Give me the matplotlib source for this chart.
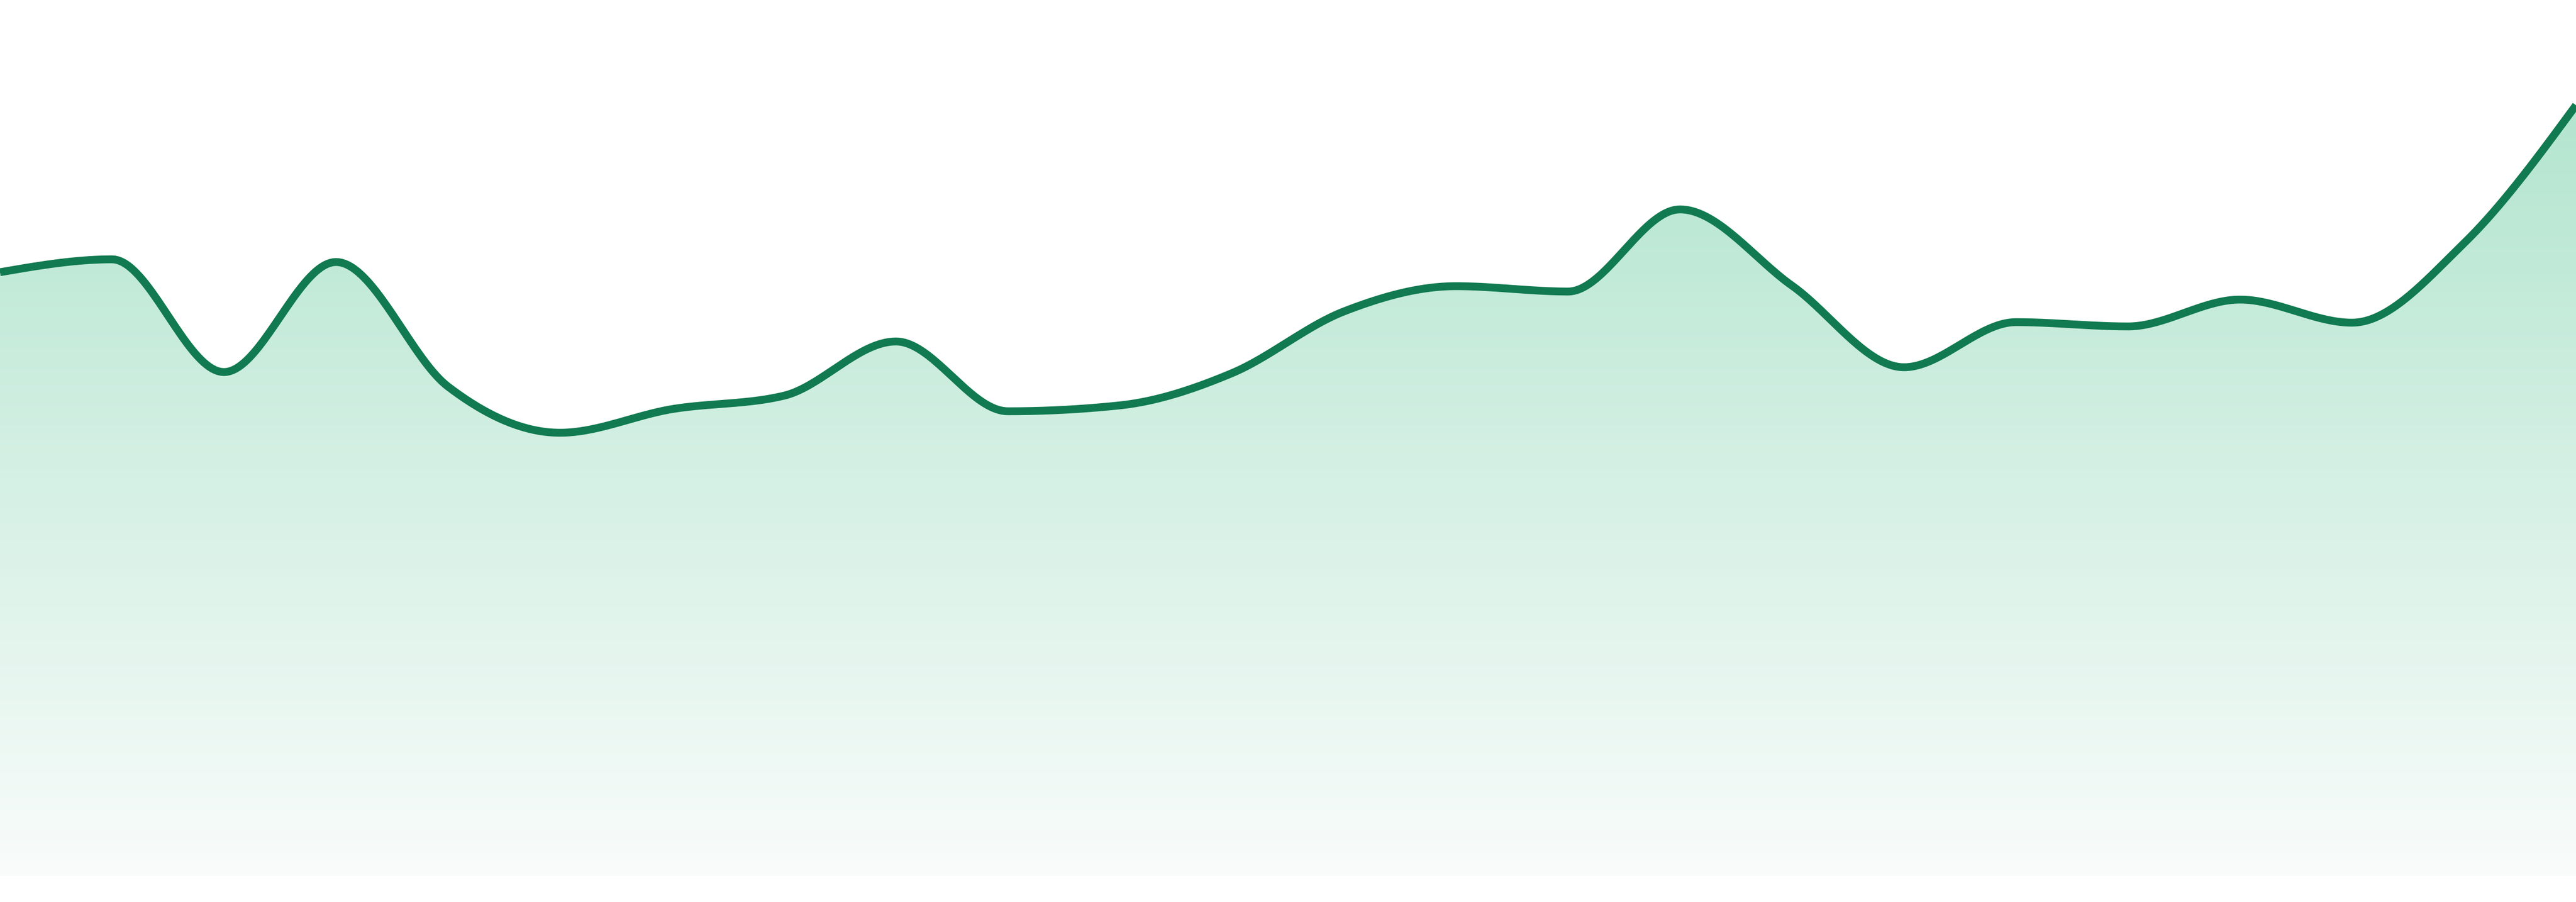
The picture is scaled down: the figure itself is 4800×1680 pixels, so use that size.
import matplotlib
matplotlib.use("Agg")
import matplotlib.pyplot as plt
import numpy as np
from matplotlib.colors import LinearSegmentedColormap

# values (24 evenly spaced points)
points = list(range(24))
values = [112.5, 114.9, 93.9, 114.4, 91.2, 82.6, 87.0, 89.5, 99.6, 86.6,
          87.7, 93.7, 105.2, 109.9, 108.9, 124.2, 110.0, 94.8, 103.2, 102.4,
          107.4, 103.1, 117.9, 143.6]

line_color = "#117a50"
fill_top = "#b3e5cf"
fill_bottom = "#f9fcfb"


def monotone_x(x, y, n=40):
    # same tangents as d3.curveMonotoneX, drawn as cubic hermite pieces
    x = np.asarray(x, float)
    y = np.asarray(y, float)
    h = np.diff(x)
    s = np.diff(y) / h
    t = np.zeros(len(x))
    for i in range(1, len(x) - 1):
        p = (s[i - 1] * h[i] + s[i] * h[i - 1]) / (h[i - 1] + h[i])
        t[i] = (np.sign(s[i - 1]) + np.sign(s[i])) * min(abs(s[i - 1]), abs(s[i]), 0.5 * abs(p))
    t[0] = (3 * s[0] - t[1]) / 2
    t[-1] = (3 * s[-1] - t[-2]) / 2
    xs, ys = [], []
    u = np.linspace(0, 1, n)
    for i in range(len(x) - 1):
        h00 = 2 * u**3 - 3 * u**2 + 1
        h10 = u**3 - 2 * u**2 + u
        h01 = -2 * u**3 + 3 * u**2
        h11 = u**3 - u**2
        xs.append(x[i] + u * h[i])
        ys.append(h00 * y[i] + h10 * h[i] * t[i] + h01 * y[i + 1] + h11 * h[i] * t[i + 1])
    return np.concatenate(xs), np.concatenate(ys)


cx, cy = monotone_x(points, values)

fig = plt.figure(figsize=(48, 16.8), dpi=100)
ax = fig.add_axes([0, 48 / 1680, 1, 1 - 48 / 1680])
ax.set_xlim(0, 23)
ax.set_ylim(0, 163.2)
ax.axis("off")

# vertical gradient under the curve
top = cy.max()
cmap = LinearSegmentedColormap.from_list("fade", [fill_bottom, fill_top])
grad = np.linspace(1, 0, 256).reshape(-1, 1)
img = ax.imshow(grad, extent=[0, 23, 0, top], aspect="auto", cmap=cmap,
                vmin=0, vmax=1, zorder=1, origin="upper")
clip = plt.Polygon(np.column_stack([np.r_[cx, cx[-1], cx[0]], np.r_[cy, 0, 0]]),
                   closed=True, transform=ax.transData)
img.set_clip_path(clip)

ax.plot(cx, cy, color=line_color, lw=10.5, solid_capstyle="butt", zorder=3)

fig.savefig("out.png", dpi=100, facecolor="white")
